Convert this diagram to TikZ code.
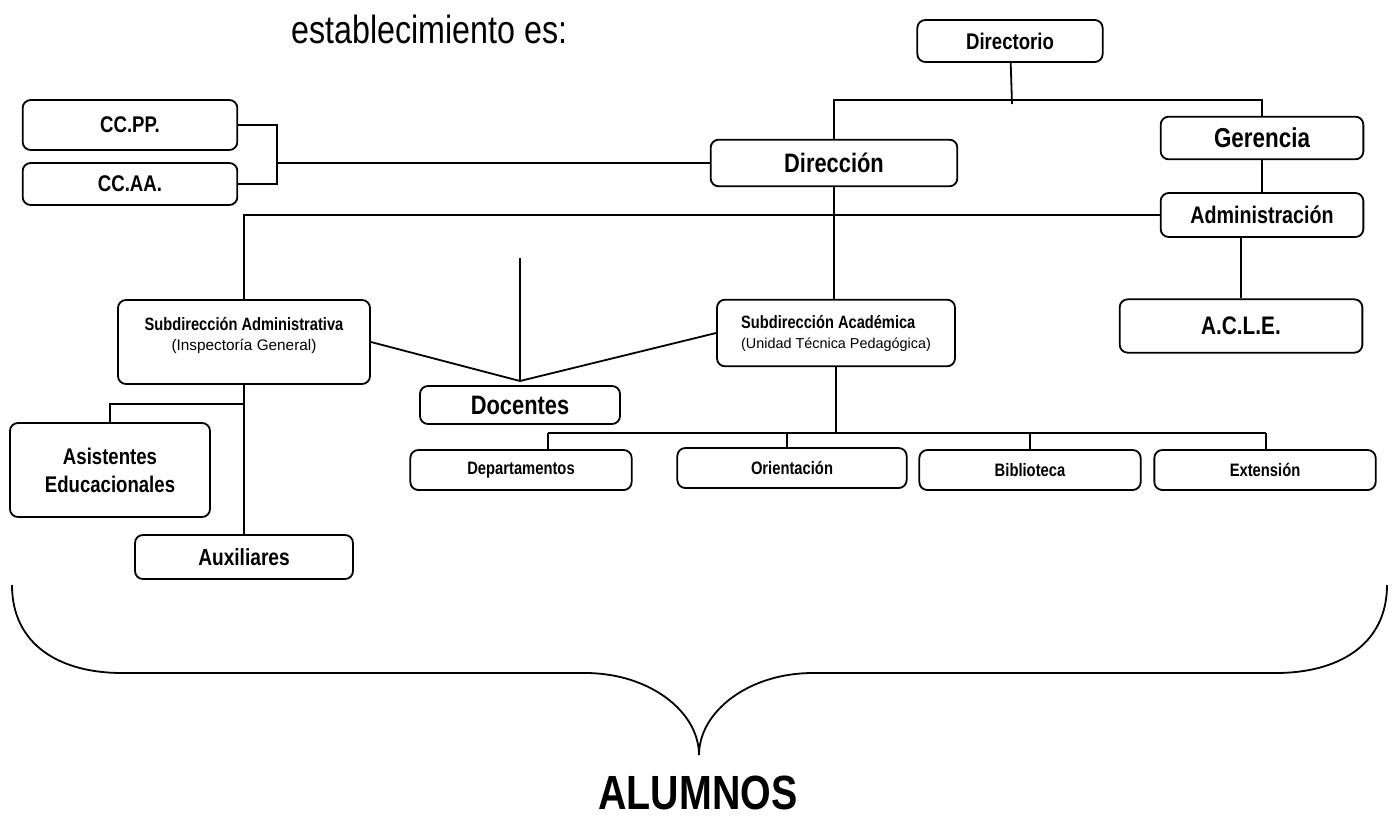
\documentclass[tikz,border=0pt]{standalone}
\usepackage{fontspec}
\setmainfont{Liberation Sans}[FakeStretch=0.82]
\newfontfamily\plainfont{Liberation Sans}
\begin{document}
\begin{tikzpicture}[x=0.75pt, y=-0.75pt, line width=1.35pt,
    box/.style={draw, rounded corners=6pt, align=center, inner sep=1pt, font=\bfseries},
    small/.style={box, minimum width=166pt, minimum height=30pt, font=\bfseries\fontsize{13.5}{15}\selectfont}]
  \useasboundingbox (0,0) rectangle (1398,817);
  \node[anchor=base west, font=\fontsize{29.5}{32}\selectfont] (title) at (286,44) {establecimiento es:};
  % cabeza
  \node[box, minimum width=139pt, minimum height=31.5pt, font=\bfseries\fontsize{17}{19}\selectfont] (directorio) at (1010,41) {Directorio};
  \node[box, minimum width=185pt, minimum height=35pt, font=\bfseries\fontsize{20}{22}\selectfont] (direccion) at (834,163) {Dirección};
  \node[box, minimum width=152pt, minimum height=32pt, font=\bfseries\fontsize{20.5}{22}\selectfont] (gerencia) at (1262,138) {Gerencia};
  \node[box, minimum width=152pt, minimum height=33pt, font=\bfseries\fontsize{18}{20}\selectfont] (admin) at (1262,215) {Administración};
  \node[box, minimum width=161pt, minimum height=37.5pt, font=\bfseries\fontsize{17}{19}\selectfont] (ccpp) at (130,125) {CC.PP.};
  \node[box, minimum width=161pt, minimum height=31.5pt, font=\bfseries\fontsize{17}{19}\selectfont] (ccaa) at (130,184) {CC.AA.};
  \node[box, minimum width=182pt, minimum height=40pt, font=\bfseries\fontsize{19}{21}\selectfont] (acle) at (1241,326) {A.C.L.E.};
  % subdirecciones
  \node[box, minimum width=189pt, minimum height=63pt,
    label={[anchor=north, yshift=-10pt, align=center, font=\fontsize{13.4}{15}\selectfont]north:{\bfseries Subdirección Administrativa}\\{\plainfont\fontsize{11.5}{14}\selectfont(Inspectoría General)}}] (subadm) at (244,342) {};
  \node[box, minimum width=178.5pt, minimum height=50pt, align=left, font=\fontsize{13.4}{15}\selectfont] (subacad) at (836,333)
    {{\bfseries Subdirección Académica}\\{\plainfont\fontsize{10.8}{12.5}\selectfont(Unidad Técnica Pedagógica)}};
  \node[box, minimum width=150pt, minimum height=28.5pt, text depth=-3pt, font=\bfseries\fontsize{20}{22}\selectfont] (docentes) at (520,405) {Docentes};
  \node[box, minimum width=150pt, minimum height=70.5pt, font=\bfseries\fontsize{17}{21}\selectfont] (asist) at (110,470) {Asistentes\\Educacionales};
  \node[box, minimum width=163.5pt, minimum height=33pt, font=\bfseries\fontsize{17.5}{19}\selectfont] (aux) at (244,557) {Auxiliares};
  \node[small] (depto) at (521,470) {Departamentos};
  \node[small, minimum width=172pt] (orient) at (792,468) {Orientación};
  \node[small] (biblio) at (1030,470) {Biblioteca};
  \node[small] (ext) at (1265,470) {Extensión};
  \node[anchor=base, inner sep=0pt, font=\bfseries\fontsize{36}{38}\selectfont] (alumnos) at (698,809) {ALUMNOS};
  % conectores
  \coordinate (topbar) at (1012,100);
  \draw (directorio) -- ([yshift=-3pt]topbar);
  \draw (direccion.north) |- (topbar) -| (gerencia.north);
  \coordinate (ccjoin) at (277,163);
  \draw (ccpp.east) -| (ccjoin) |- (ccaa.east);
  \draw (ccjoin) -- (direccion.west);
  \draw (gerencia) -- (admin);
  \draw (admin.west) -| (subadm.north);
  \draw (direccion.south) -- (direccion.south |- subacad.north);
  \draw (acle.north) -- (acle.north |- admin.south);
  \coordinate (docjoin) at (520,381);
  \coordinate (docfree) at (520,258);
  \draw (subadm.east) -- (docjoin) -- (subacad.west);
  \draw (docfree) -- (docjoin);
  \coordinate (acadbar) at (836,433);
  \draw (subacad.south) -- (acadbar);
  \foreach \n/\x in {depto/548, orient/787, biblio/1030, ext/1266}{
    \coordinate (t\n) at (\x,433);
    \draw (t\n) -- (t\n |- \n.north);
  }
  \draw (tdepto) -- (text);
  \coordinate (asjoin) at (244,404);
  \draw (subadm.south) -- (subadm.south |- aux.north);
  \draw (asjoin) -| (asist.north);
  % llave
  \draw (12,585) .. controls (12,645) and (60,673) .. (122,673) -- (585,673)
    .. controls (650,673) and (699,712) .. (699,755)
    .. controls (699,712) and (748,673) .. (813,673) -- (1276,673)
    .. controls (1338,673) and (1387,645) .. (1387,585);
\end{tikzpicture}
\end{document}
